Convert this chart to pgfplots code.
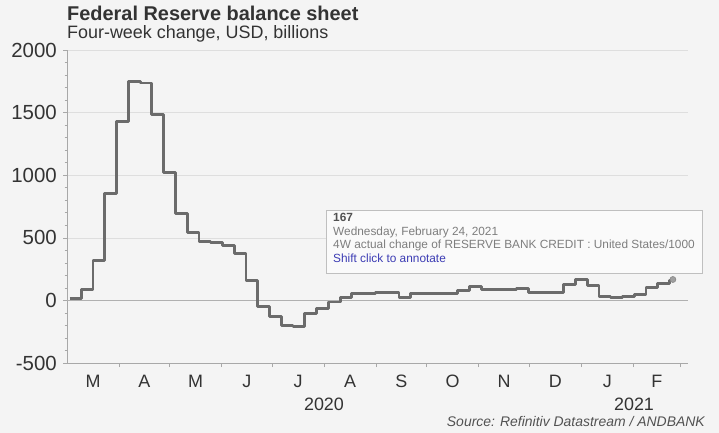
\documentclass[border=0pt]{standalone}
\usepackage{pgfplots}
\pgfplotsset{compat=1.18}
\usepackage{pgfplotstable}
\usepackage{fontspec}
\setmainfont{Liberation Sans}

\definecolor{bgc}{HTML}{F4F4F4}
\definecolor{linec}{HTML}{6B6B6B}
\definecolor{txt}{HTML}{333333}
\definecolor{gridc}{HTML}{DEDEDE}
\definecolor{zeroc}{HTML}{B0B0B0}
\definecolor{axc}{HTML}{A8A8A8}
\definecolor{tipgray}{HTML}{7E7E7E}
\definecolor{tipblue}{HTML}{3C3CB4}

% weekly four-week change, x = days since 1 Mar 2020
\pgfplotstableread{
day val
1.5 18
8.5 85
15.5 317
22.5 851
29.5 1428
36.5 1750
43.5 1737
50.5 1484
57.5 1022
64.5 694
71.5 545
78.5 468
85.5 462
92.5 440
99.5 372
106.5 158
113.5 -50
120.5 -130
127.5 -200
134.5 -206
141.5 -104
148.5 -67
155.5 -13
162.5 22
169.5 53
176.5 58
183.5 60
190.5 60
197.5 22
204.5 55
211.5 55
218.5 55
225.5 58
232.5 82
239.5 110
246.5 88
253.5 85
260.5 85
267.5 92
274.5 66
281.5 66
288.5 64
295.5 130
302.5 170
309.5 118
316.5 30
323.5 22
330.5 28
337.5 50
344.5 100
351.5 135
358.5 158
360.5 167
}\fedtable

\begin{document}
\begin{tikzpicture}[x=1bp,y=1bp]
\fill[bgc] (0,0) rectangle (719,-433);
\useasboundingbox (0,0) rectangle (719,-433);

\node[anchor=base west, inner sep=0pt, text=txt, font=\fontsize{20}{24}\selectfont\bfseries] at (67,-21) {Federal Reserve balance sheet};
\node[anchor=base west, inner sep=0pt, text=txt, font=\fontsize{18}{22}\selectfont] at (67,-39) {Four-week change, USD, billions};

\begin{axis}[
  at={(67bp,-363bp)}, anchor=south west,
  scale only axis, width=621bp, height=313bp,
  xmin=0, xmax=369.5, ymin=-500, ymax=2000,
  axis x line*=bottom, axis y line*=left,
  axis line style={axc, line width=0.8bp, -},
  tick align=outside,
  major tick length=4bp, minor tick length=2.5bp,
  tick style={axc, line width=0.6bp},
  ytick={-500,0,500,1000,1500,2000},
  minor ytick={-400,-300,...,1900},
  xtick={31,61,92,122,153,184,214,245,275,306,337,365},
  xticklabels={},
  extra x ticks={15.5,46,76.5,107,137.5,168.5,199,229.5,260,290.5,321.5,351},
  extra x tick labels={M,A,M,J,J,A,S,O,N,D,J,F},
  extra x tick style={major tick length=0pt},
  xticklabel style={font=\fontsize{18}{22}\selectfont, text=txt, anchor=base, inner sep=0pt, yshift=-24bp},
  yticklabel style={font=\fontsize{20.5}{24}\selectfont, text=txt, anchor=east, inner sep=0pt, xshift=-6bp},
  /pgf/number format/assume math mode=true,
  /pgf/number format/1000 sep={},
  ymajorgrids, grid style={gridc, line width=0.6bp},
  clip=false,
]
\draw[zeroc, line width=0.9bp] (axis cs:0,0) -- (axis cs:369.5,0);
\addplot[const plot, linec, line width=2.8bp, line join=round] table[x=day, y=val] {\fedtable};
\addplot[only marks, mark=*, mark size=3bp, mark options={fill=gray!75, draw=gray!95, line width=0.6bp}] coordinates {(360.5,167)};
\end{axis}

\node[anchor=base, inner sep=0pt, text=txt, font=\fontsize{18}{22}\selectfont] at (324,-410) {2020};
\node[anchor=base, inner sep=0pt, text=txt, font=\fontsize{18}{22}\selectfont] at (634,-410) {2021};
\node[anchor=base east, inner sep=0pt, text=txt!85, font=\fontsize{14}{16}\selectfont\itshape] at (705,-426) {Source: Refinitiv Datastream / ANDBANK};

% hover tooltip
\draw[draw=gray!50, fill=white!55!bgc, line width=0.7bp] (326,-210) rectangle (702,-273);
\begin{scope}[every node/.style={anchor=base west, inner sep=0pt, font=\fontsize{11.9}{14}\selectfont}]
\node[text=txt!85, font=\fontsize{11.9}{14}\selectfont\bfseries] at (333,-222) {167};
\node[text=tipgray] at (333,-235.5) {Wednesday, February 24, 2021};
\node[text=tipgray] at (333,-249) {4W actual change of RESERVE BANK CREDIT : United States/1000};
\node[text=tipblue] at (333,-263) {Shift click to annotate};
\end{scope}
\end{tikzpicture}
\end{document}
